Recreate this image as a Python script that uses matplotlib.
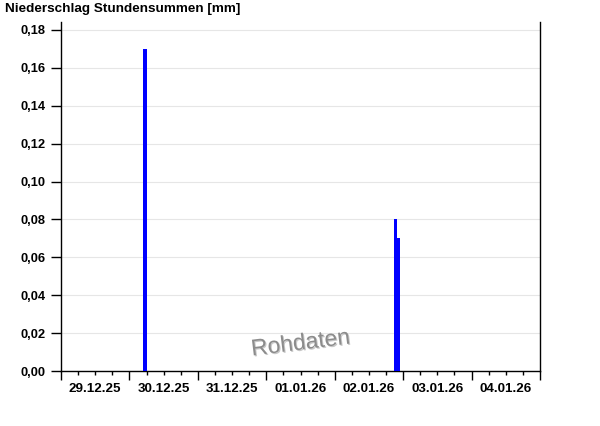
import matplotlib
matplotlib.use('Agg')
import matplotlib.pyplot as plt
import matplotlib.dates as mdates
import matplotlib.patheffects as pe
import numpy as np
from datetime import datetime, timedelta

# Stundensummen (end of hour) and values in mm
times = ['2025-12-30 06:00', '2026-01-02 22:00', '2026-01-02 23:00']
values = [0.17, 0.08, 0.07]
day_labels = ['29.12.25', '30.12.25', '31.12.25', '01.01.26', '02.01.26', '03.01.26', '04.01.26']
start = datetime(2025, 12, 29)
end = datetime(2026, 1, 5)

plt.rcParams['font.family'] = ['Liberation Sans', 'DejaVu Sans']
plt.rcParams['font.weight'] = 'bold'

fig = plt.figure(figsize=(6, 4.26), dpi=100)
ax = fig.add_axes([61 / 600, 55 / 426, 479 / 600, 349 / 426])

t = [datetime.strptime(s, '%Y-%m-%d %H:%M') for s in times]
# draw later hours first so earlier bars sit on top where they overlap
ax.bar(t[::-1], values[::-1], width=-1.3 / 24, align='edge', color='#0000ff',
       linewidth=0, zorder=3)

ax.set_xlim(start, end)
ax.set_ylim(0, 0.1842)
yt = np.arange(0, 0.181, 0.02)
ax.set_yticks(yt)
ax.set_yticklabels([f'{v:.2f}'.replace('.', ',') for v in yt], fontsize=9.3, fontweight='bold')
ax.yaxis.grid(True, color='#e6e6e6', linewidth=0.8, zorder=0)

ax.xaxis.set_major_locator(mdates.DayLocator())
ax.xaxis.set_minor_locator(mdates.HourLocator(byhour=[6, 12, 18]))
ax.xaxis.set_major_formatter(plt.NullFormatter())
ax.tick_params(axis='x', which='major', length=6.5, width=1)
ax.tick_params(axis='x', which='minor', length=2.8, width=1)
ax.tick_params(axis='y', length=7, width=1, pad=4)

for i, lab in enumerate(day_labels):
    ax.text(start + timedelta(days=i, hours=12), -0.0093, lab, ha='center', va='center',
            fontsize=9.6, fontweight='bold', clip_on=False)

ax.spines['top'].set_visible(False)
for s in ['left', 'right', 'bottom']:
    ax.spines[s].set_linewidth(1)

fig.text(5 / 600, 1 - 9 / 426, 'Niederschlag Stundensummen [mm]', ha='left', va='center',
         fontsize=9.7, fontweight='bold')

ax.text(0.5, 0.08, 'Rohdaten', transform=ax.transAxes, ha='center', va='center',
        rotation=7, fontsize=16.5, fontweight='normal', color='#8c8c8c',
        path_effects=[pe.withSimplePatchShadow(offset=(0.8, -0.8), shadow_rgbFace='#bbbbbb', alpha=0.8)])

fig.savefig('out.png', dpi=100)
